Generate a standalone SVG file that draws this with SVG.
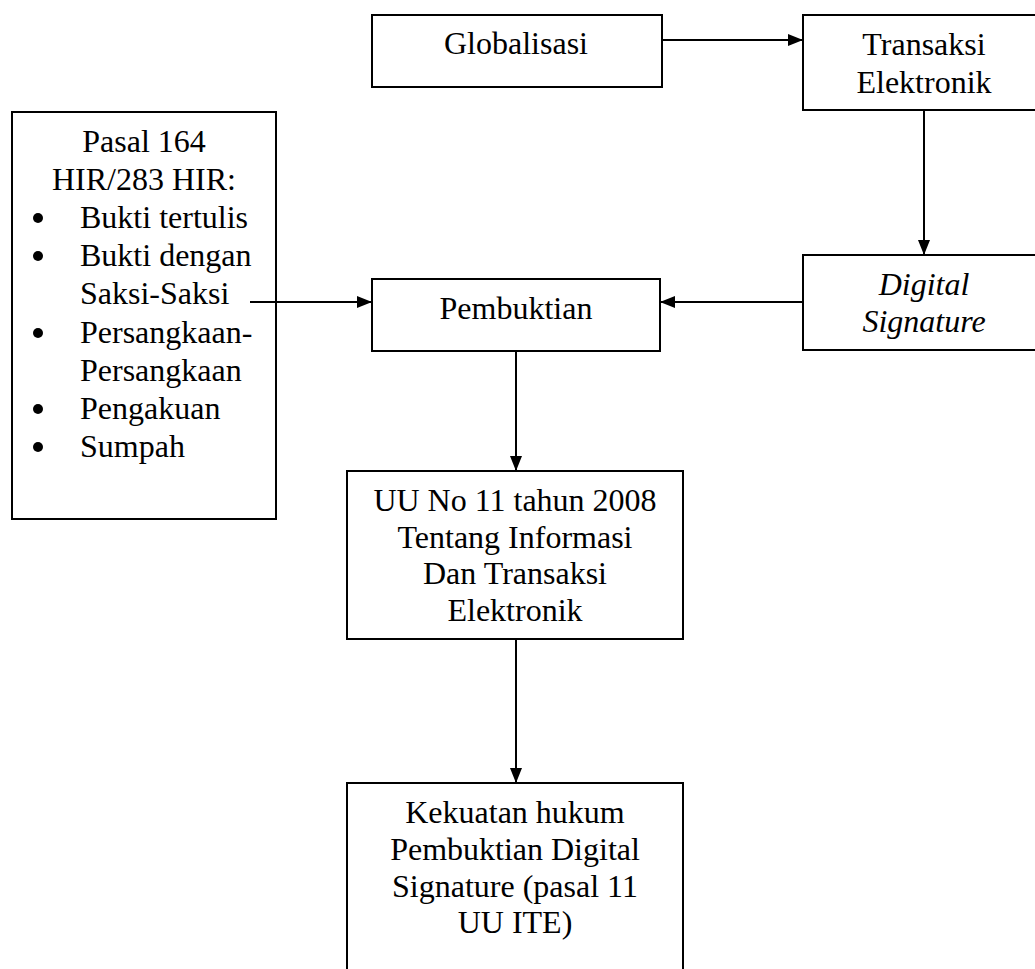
<svg xmlns="http://www.w3.org/2000/svg" width="1035" height="969" viewBox="0 0 1035 969">
<defs>
<style>
.box{fill:#fff;stroke:#000;stroke-width:2}
.t{font-family:"Liberation Serif","Times New Roman",serif;font-size:32px;fill:#000}
.c{text-anchor:middle}
.i{font-style:italic}
.edge{stroke:#000;stroke-width:2;fill:none;marker-end:url(#ah)}
</style>
<marker id="ah" viewBox="0 0 15 12" refX="15" refY="6" markerWidth="15" markerHeight="12" markerUnits="userSpaceOnUse" orient="auto">
<path d="M0,0 L15,6 L0,12 Z" fill="#000"/>
</marker>
</defs>
<rect width="1035" height="969" fill="#fff"/>
<g id="globalisasi">
<rect class="box" x="372" y="15" width="290" height="72"/>
<text class="t c" x="516" y="54">Globalisasi</text>
</g>
<g id="transaksi">
<rect class="box" x="803" y="15" width="250" height="95"/>
<text class="t c" x="924" y="55">Transaksi</text>
<text class="t c" x="924" y="93">Elektronik</text>
</g>
<g id="pasal">
<rect class="box" x="12" y="112" width="264" height="407"/>
<text class="t c" x="144" y="152">Pasal 164</text>
<text class="t c" x="144" y="190">HIR/283 HIR:</text>
<circle cx="38" cy="218" r="5"/>
<text class="t" x="80" y="228">Bukti tertulis</text>
<circle cx="38" cy="256" r="5"/>
<text class="t" x="80" y="266">Bukti dengan</text>
<text class="t" x="80" y="304">Saksi-Saksi</text>
<circle cx="38" cy="333" r="5"/>
<text class="t" x="80" y="343">Persangkaan-</text>
<text class="t" x="80" y="381">Persangkaan</text>
<circle cx="38" cy="409" r="5"/>
<text class="t" x="80" y="419">Pengakuan</text>
<circle cx="38" cy="447" r="5"/>
<text class="t" x="80" y="457">Sumpah</text>
</g>
<g id="pembuktian">
<rect class="box" x="372" y="279" width="288" height="72"/>
<text class="t c" x="516" y="319">Pembuktian</text>
</g>
<g id="digital-signature">
<rect class="box" x="803" y="255" width="250" height="95"/>
<text class="t c i" x="924" y="295">Digital</text>
<text class="t c i" x="924" y="332">Signature</text>
</g>
<g id="uu-ite">
<rect class="box" x="347" y="471" width="336" height="168"/>
<text class="t c" x="515" y="511">UU No 11 tahun 2008</text>
<text class="t c" x="515" y="548">Tentang Informasi</text>
<text class="t c" x="515" y="584">Dan Transaksi</text>
<text class="t c" x="515" y="621">Elektronik</text>
</g>
<g id="kekuatan-hukum">
<rect class="box" x="347" y="783" width="336" height="230"/>
<text class="t c" x="515" y="823">Kekuatan hukum</text>
<text class="t c" x="515" y="860">Pembuktian Digital</text>
<text class="t c" x="515" y="897">Signature (pasal 11</text>
<text class="t c" x="515" y="933">UU ITE)</text>
</g>
<g id="connectors">
<line class="edge" x1="662" y1="40" x2="803" y2="40"/>
<line class="edge" x1="924" y1="110" x2="924" y2="255"/>
<line class="edge" x1="803" y1="302" x2="660" y2="302"/>
<line class="edge" x1="250" y1="302" x2="372" y2="302"/>
<line class="edge" x1="516" y1="351" x2="516" y2="471"/>
<line class="edge" x1="516" y1="639" x2="516" y2="783"/>
</g>
</svg>
